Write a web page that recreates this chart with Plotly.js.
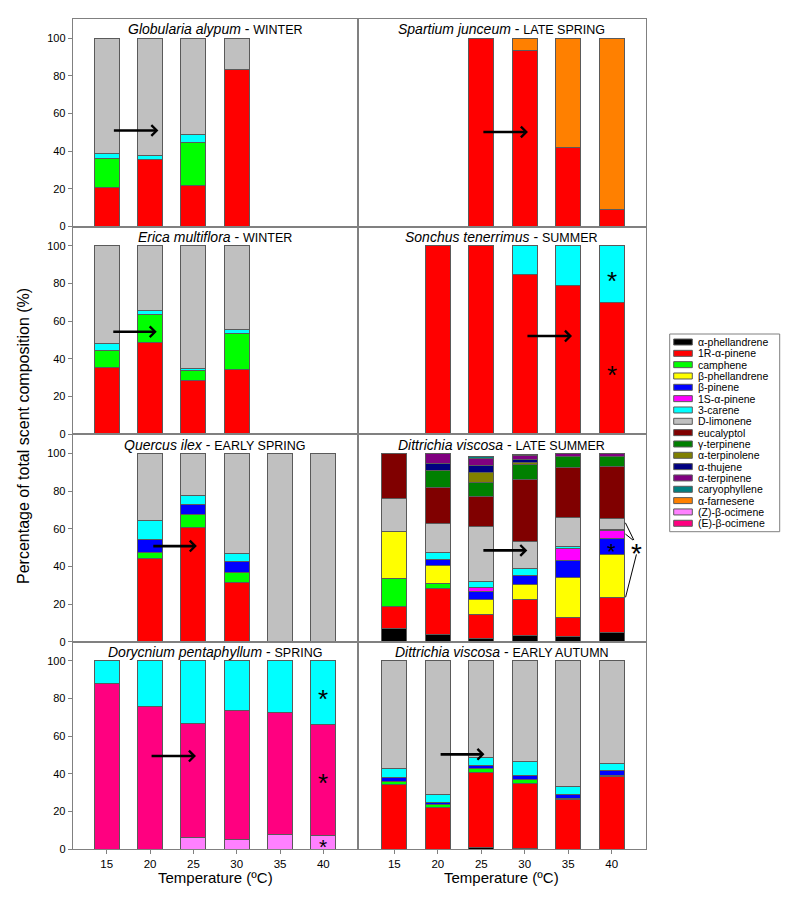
<!DOCTYPE html>
<html><head><meta charset="utf-8">
<script src="https://cdn.plot.ly/plotly-3.0.1.min.js"></script>
<style>html,body{margin:0;padding:0;background:#fff}</style>
</head><body><div id="chart" style="width:800px;height:904px"></div>
<script>
// ---------------- DATA ----------------
const temps = [15, 20, 25, 30, 35, 40];
const tickLabels = ['15', '20', '25', '30', '35', '40'];
const yTicks = [0, 20, 40, 60, 80, 100];

const compounds = ['α-phellandrene', '1R-α-pinene', 'camphene', 'β-phellandrene', 'β-pinene',
  '1S-α-pinene', '3-carene', 'D-limonene', 'eucalyptol', 'γ-terpinene', 'α-terpinolene',
  'α-thujene', 'α-terpinene', 'caryophyllene', 'α-farnesene', '(Z)-β-ocimene', '(E)-β-ocimene'];
const compoundColors = ['#000000', '#FF0000', '#00FF00', '#FFFF00', '#0000FF',
  '#FF00FF', '#00FFFF', '#C0C0C0', '#800000', '#008000', '#808000',
  '#000080', '#800080', '#008080', '#FF8000', '#FF80FF', '#FF0080'];

const speciesNames = ['Globularia alypum', 'Spartium junceum', 'Erica multiflora', 'Sonchus tenerrimus',
  'Quercus ilex', 'Dittrichia viscosa', 'Dorycnium pentaphyllum', 'Dittrichia viscosa'];
const seasonNames = ['WINTER', 'LATE SPRING', 'WINTER', 'SUMMER',
  'EARLY SPRING', 'LATE SUMMER', 'SPRING', 'EARLY AUTUMN'];

// % of total scent composition per temperature (15..40 °C); null = not measured / absent
// stacks are listed bottom -> top
const globulariaWinter = {
  '1R-α-pinene': [20.5, 35.8, 21.7, 83.4, null, null],
  'camphene':    [15.5, 0, 22.8, 0, null, null],
  '3-carene':    [3.0, 1.9, 4.4, 0, null, null],
  'D-limonene':  [61.0, 62.3, 51.1, 16.6, null, null]
};
const spartiumLateSpring = {
  '1R-α-pinene': [null, null, 100, 93.6, 41.8, 8.9],
  'α-farnesene': [null, null, 0, 6.4, 58.2, 91.1]
};
const ericaWinter = {
  '1R-α-pinene': [35.5, 48.8, 28.4, 34.6, null, null],
  'camphene':    [8.8, 14.6, 5.2, 19.0, null, null],
  '3-carene':    [3.7, 2.1, 1.4, 2.1, null, null],
  'D-limonene':  [52.0, 34.5, 65.0, 44.3, null, null]
};
const sonchusSummer = {
  '1R-α-pinene': [null, 100, 100, 85.0, 79.0, 70.1],
  '3-carene':    [null, 0, 0, 15.0, 21.0, 29.9]
};
const quercusEarlySpring = {
  '1R-α-pinene': [null, 44.3, 60.7, 31.7, 0, 0],
  'camphene':    [null, 2.9, 6.7, 4.9, 0, 0],
  'β-pinene':    [null, 6.9, 5.3, 6.2, 0, 0],
  '3-carene':    [null, 10.3, 5.0, 4.1, 0, 0],
  'D-limonene':  [null, 35.6, 22.3, 53.1, 100, 100]
};
const dittrichiaLateSummer = {
  'α-phellandrene': [6.9, 3.7, 1.8, 3.5, 2.5, 5.1],
  '1R-α-pinene':    [11.9, 24.6, 12.4, 18.8, 10.2, 18.5],
  'camphene':       [15.0, 2.7, 0, 0, 0, 0],
  'β-phellandrene': [24.6, 9.3, 8.3, 8.1, 21.3, 22.8],
  'β-pinene':       [0, 3.4, 4.0, 5.0, 9.2, 8.6],
  '1S-α-pinene':    [0, 0, 2.3, 0, 6.3, 3.9],
  '3-carene':       [0, 3.5, 3.0, 3.5, 1.1, 0.8],
  'D-limonene':     [17.7, 15.8, 29.2, 14.2, 15.2, 5.8],
  'eucalyptol':     [23.9, 18.9, 16.3, 32.9, 26.9, 27.6],
  'γ-terpinene':    [0, 9.1, 7.2, 8.3, 5.7, 5.3],
  'α-terpinolene':  [0, 0, 5.6, 0.9, 0, 0],
  'α-thujene':      [0, 3.8, 3.5, 1.4, 0, 0],
  'α-terpinene':    [0, 5.0, 3.9, 2.1, 1.4, 1.4],
  'caryophyllene':  [0, 0, 1.1, 0.9, 0, 0]
};
const dorycniumSpring = {
  '(Z)-β-ocimene': [0, 0, 6.5, 5.1, 7.8, 7.2],
  '(E)-β-ocimene': [88.0, 75.8, 60.3, 68.6, 64.6, 59.1],
  '3-carene':      [12.0, 24.2, 33.2, 26.3, 27.6, 33.7]
};
const dittrichiaEarlyAutumn = {
  'α-phellandrene': [0, 0, 0.9, 0.5, 0, 0],
  '1R-α-pinene':    [34.5, 22.4, 39.7, 34.5, 26.3, 38.5],
  'camphene':       [1.5, 1.3, 2.3, 2.1, 0.6, 0.9],
  'β-pinene':       [2.3, 1.4, 1.8, 2.3, 2.1, 2.5],
  '3-carene':       [4.6, 4.2, 3.9, 7.2, 4.6, 3.7],
  'D-limonene':     [57.1, 70.7, 51.4, 53.4, 66.4, 54.4]
};

const panelData = [globulariaWinter, spartiumLateSpring, ericaWinter, sonchusSummer,
  quercusEarlySpring, dittrichiaLateSummer, dorycniumSpring, dittrichiaEarlyAutumn];

// ---------------- LAYOUT ----------------
const W = 800, H = 904;
const px = x => x / W;
const py = y => 1 - y / H;
const colPx = [[72.7, 358], [358, 646]];
const rowPx = [[19, 226.5], [226.5, 434.3], [434.3, 641.7], [641.7, 849.3]];
const xRanges = [[11.07, 44.0], [10.82, 43.95]];
const yRange = [0, 110.2];
const FONT = 'Liberation Sans, Arial, sans-serif';
const colorOf = name => compoundColors[compounds.indexOf(name)];

const traces = [];
const layout = {
  width: W, height: H,
  margin: {l: 0, r: 0, t: 0, b: 0},
  paper_bgcolor: '#ffffff', plot_bgcolor: '#ffffff',
  barmode: 'stack', showlegend: false,
  font: {family: FONT, size: 11, color: '#000'},
  annotations: [], shapes: []
};

panelData.forEach((data, i) => {
  const row = Math.floor(i / 2), col = i % 2;
  const s = i === 0 ? '' : String(i + 1);
  const xa = 'x' + s, ya = 'y' + s;
  Object.keys(data).forEach(name => {
    traces.push({
      type: 'bar', name: name, x: temps,
      y: data[name].map(v => (v === 0 ? null : v)),
      xaxis: xa, yaxis: ya, width: 2.9,
      marker: {color: colorOf(name), line: {color: '#5a5a5a', width: 1}},
      hovertemplate: name + ': %{y}%<extra></extra>'
    });
  });
  const bottom = row === 3;
  layout['xaxis' + s] = {
    domain: [px(colPx[col][0]), px(colPx[col][1])],
    range: xRanges[col], anchor: ya,
    showline: true, mirror: true, linecolor: '#808080', linewidth: 1,
    showgrid: false, zeroline: false,
    tickmode: 'array', tickvals: temps, ticktext: tickLabels,
    ticks: bottom ? 'outside' : '', ticklen: 4, tickcolor: '#808080',
    showticklabels: bottom, tickfont: {size: 11.5, family: FONT}
  };
  layout['yaxis' + s] = {
    domain: [py(rowPx[row][1]), py(rowPx[row][0])],
    range: yRange, anchor: xa,
    showline: true, mirror: true, linecolor: '#808080', linewidth: 1,
    showgrid: false, zeroline: false,
    tickmode: 'array', tickvals: yTicks,
    ticks: col === 0 ? 'outside' : '', ticklen: 4, tickcolor: '#808080',
    showticklabels: col === 0, tickfont: {size: 11, family: FONT}
  };
  // panel title
  layout.annotations.push({
    xref: 'paper', yref: 'paper',
    x: px((colPx[col][0] + colPx[col][1]) / 2), y: py(rowPx[row][0] + 10.5),
    xanchor: 'center', yanchor: 'middle', showarrow: false,
    text: '<i>' + speciesNames[i] + '</i> - <span style="font-size:12.5px">' + seasonNames[i] + '</span>',
    font: {family: FONT, size: 14, color: '#000'}
  });
});

// arrows (tail x,y -> head x,y in data coordinates)
const arrows = [
  ['', 15.65, 51.0, 20.96, 51.0],
  ['2', 25.07, 50.2, 30.37, 50.2],
  ['3', 15.58, 54.4, 20.77, 54.4],
  ['4', 30.14, 52.1, 35.44, 52.1],
  ['5', 20.2, 50.8, 25.4, 50.8],
  ['6', 25.07, 48.5, 30.3, 48.5],
  ['7', 20.0, 49.5, 25.3, 49.5],
  ['8', 20.15, 50.4, 25.37, 50.4]
];
arrows.forEach(a => {
  layout.annotations.push({
    xref: 'x' + a[0], yref: 'y' + a[0], axref: 'x' + a[0], ayref: 'y' + a[0],
    x: a[3], y: a[4], ax: a[1], ay: a[2], text: '',
    showarrow: true, arrowhead: 4, arrowsize: 0.8, arrowwidth: 2.6, arrowcolor: '#000'
  });
});

// asterisks
const stars = [
  ['4', 40, 84.5, 26], ['4', 40, 34.6, 26],
  ['7', 40, 82.7, 26], ['7', 40, 38.2, 26], ['7', 40, 4.0, 21],
  ['6', 40, 50.4, 22], ['6', 42.85, 50.1, 28]
];
stars.forEach(st => {
  layout.annotations.push({
    xref: 'x' + st[0], yref: 'y' + st[0], x: st[1], y: st[2],
    text: '*', showarrow: false, xanchor: 'center', yanchor: 'middle',
    yshift: -st[3] * 0.22,
    font: {family: FONT, size: st[3], color: '#000'}
  });
});
// connector lines for the Dittrichia late-summer asterisk
[[41.58, 63.2, 42.55, 54.0], [41.58, 57.2, 42.45, 54.0], [42.85, 46.4, 41.6, 23.6]].forEach(l => {
  layout.shapes.push({type: 'line', xref: 'x6', yref: 'y6', x0: l[0], y0: l[1], x1: l[2], y1: l[3],
    line: {color: '#000', width: 1}});
});

// axis titles
layout.annotations.push({
  xref: 'paper', yref: 'paper', x: px(23), y: py(436), textangle: -90,
  text: 'Percentage of total scent composition (%)', showarrow: false,
  xanchor: 'center', yanchor: 'middle', font: {family: FONT, size: 16, color: '#000'}
});
[0, 1].forEach(col => {
  layout.annotations.push({
    xref: 'paper', yref: 'paper', x: px((colPx[col][0] + colPx[col][1]) / 2), y: py(877),
    text: 'Temperature (ºC)', showarrow: false, xanchor: 'center', yanchor: 'middle',
    font: {family: FONT, size: 15, color: '#000'}
  });
});

// manual legend
layout.shapes.push({type: 'rect', xref: 'paper', yref: 'paper',
  x0: px(669.7), x1: px(779.7), y0: py(531.7), y1: py(334),
  line: {color: '#808080', width: 1}, fillcolor: 'rgba(0,0,0,0)'});
compounds.forEach((name, k) => {
  const cy = 342 + k * 11.33;
  layout.shapes.push({type: 'rect', xref: 'paper', yref: 'paper',
    x0: px(673.7), x1: px(692.3), y0: py(cy + 3), y1: py(cy - 3),
    fillcolor: compoundColors[k], line: {color: '#5a5a5a', width: 1}});
  layout.annotations.push({xref: 'paper', yref: 'paper', x: px(696.3), y: py(cy),
    xanchor: 'left', yanchor: 'middle', showarrow: false, text: name,
    font: {family: FONT, size: 10.5, color: '#000'}});
});

Plotly.newPlot('chart', traces, layout, {displayModeBar: false, staticPlot: true});
</script></body></html>
